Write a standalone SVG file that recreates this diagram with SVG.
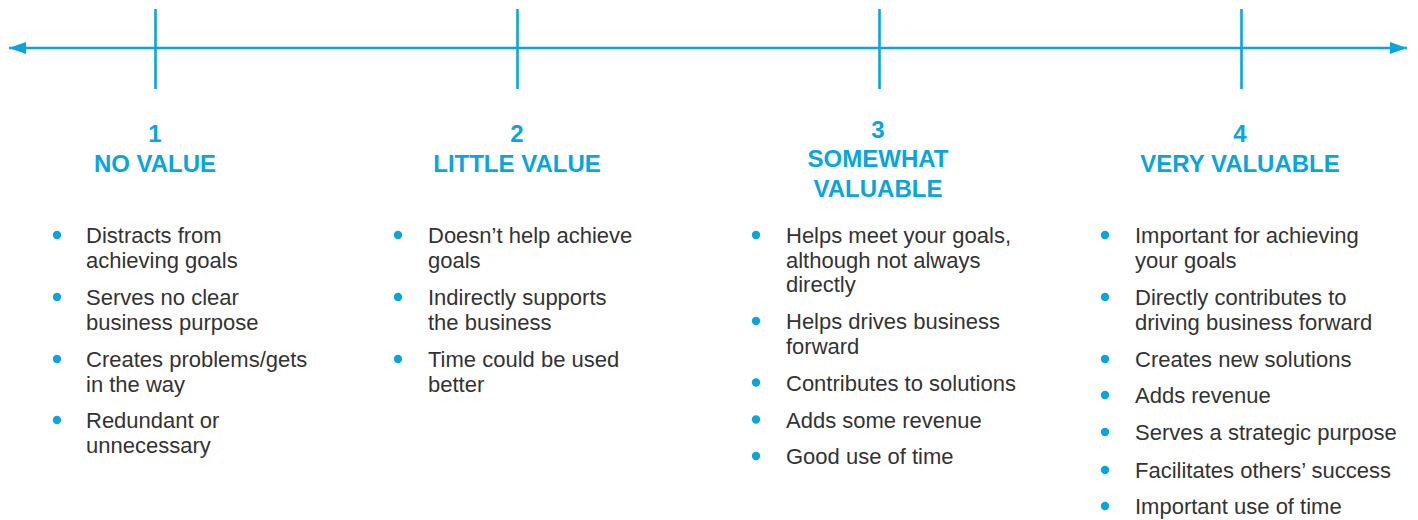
<svg xmlns="http://www.w3.org/2000/svg" width="1418" height="520" viewBox="0 0 1418 520">
  <style>
    .axis { stroke: #0AA5DC; stroke-width: 2.6; fill: none; }
    .tick { stroke: #0AA5DC; stroke-width: 2.6; }
    .head { font-family: "Liberation Sans", Arial, sans-serif; font-weight: bold; font-size: 24px; fill: #0AA5DC; text-anchor: middle; }
    .item { font-family: "Liberation Sans", Arial, sans-serif; font-size: 22px; fill: #333333; }
    .dot { fill: #0AA5DC; }
  </style>
  <defs>
    <marker id="arrowEnd" markerUnits="userSpaceOnUse" markerWidth="18" markerHeight="14" refX="17" refY="7" orient="auto">
      <path d="M0,1 L17,7 L0,13 Z" fill="#0AA5DC"/>
    </marker>
    <marker id="arrowStart" markerUnits="userSpaceOnUse" markerWidth="18" markerHeight="14" refX="1" refY="7" orient="auto">
      <path d="M18,1 L1,7 L18,13 Z" fill="#0AA5DC"/>
    </marker>
  </defs>

  <!-- value axis with scale ticks -->
  <g id="connectors">
    <path class="axis" d="M9,48 H1407" marker-start="url(#arrowStart)" marker-end="url(#arrowEnd)"/>
    <line class="tick" x1="155.5" y1="9" x2="155.5" y2="89"/>
    <line class="tick" x1="517.5" y1="9" x2="517.5" y2="89"/>
    <line class="tick" x1="879.5" y1="9" x2="879.5" y2="89"/>
    <line class="tick" x1="1241.5" y1="9" x2="1241.5" y2="89"/>
  </g>

  <!-- level 1 -->
  <g id="level1">
    <text class="head" x="155" y="142">1</text>
    <text class="head" x="155" y="172">NO VALUE</text>
    <circle class="dot" cx="57" cy="235" r="4.2"/>
    <text class="item" x="86" y="243">Distracts from</text>
    <text class="item" x="86" y="267.5">achieving goals</text>
    <circle class="dot" cx="57" cy="297" r="4.2"/>
    <text class="item" x="86" y="305">Serves no clear</text>
    <text class="item" x="86" y="329.5">business purpose</text>
    <circle class="dot" cx="57" cy="359" r="4.2"/>
    <text class="item" x="86" y="367">Creates problems/gets</text>
    <text class="item" x="86" y="391.5">in the way</text>
    <circle class="dot" cx="57" cy="420" r="4.2"/>
    <text class="item" x="86" y="428">Redundant or</text>
    <text class="item" x="86" y="452.5">unnecessary</text>
  </g>

  <!-- level 2 -->
  <g id="level2">
    <text class="head" x="517" y="142">2</text>
    <text class="head" x="517" y="172">LITTLE VALUE</text>
    <circle class="dot" cx="398" cy="235" r="4.2"/>
    <text class="item" x="428" y="243">Doesn’t help achieve</text>
    <text class="item" x="428" y="267.5">goals</text>
    <circle class="dot" cx="398" cy="297" r="4.2"/>
    <text class="item" x="428" y="305">Indirectly supports</text>
    <text class="item" x="428" y="329.5">the business</text>
    <circle class="dot" cx="398" cy="359" r="4.2"/>
    <text class="item" x="428" y="367">Time could be used</text>
    <text class="item" x="428" y="391.5">better</text>
  </g>

  <!-- level 3 -->
  <g id="level3">
    <text class="head" x="878" y="138">3</text>
    <text class="head" x="878" y="167">SOMEWHAT</text>
    <text class="head" x="878" y="197">VALUABLE</text>
    <circle class="dot" cx="756" cy="235" r="4.2"/>
    <text class="item" x="786" y="243">Helps meet your goals,</text>
    <text class="item" x="786" y="267.5">although not always</text>
    <text class="item" x="786" y="292">directly</text>
    <circle class="dot" cx="756" cy="321" r="4.2"/>
    <text class="item" x="786" y="329">Helps drives business</text>
    <text class="item" x="786" y="353.5">forward</text>
    <circle class="dot" cx="756" cy="382.5" r="4.2"/>
    <text class="item" x="786" y="390.5">Contributes to solutions</text>
    <circle class="dot" cx="756" cy="419.5" r="4.2"/>
    <text class="item" x="786" y="427.5">Adds some revenue</text>
    <circle class="dot" cx="756" cy="456" r="4.2"/>
    <text class="item" x="786" y="464">Good use of time</text>
  </g>

  <!-- level 4 -->
  <g id="level4">
    <text class="head" x="1240" y="142">4</text>
    <text class="head" x="1240" y="172">VERY VALUABLE</text>
    <circle class="dot" cx="1105" cy="235" r="4.2"/>
    <text class="item" x="1135" y="243">Important for achieving</text>
    <text class="item" x="1135" y="267.5">your goals</text>
    <circle class="dot" cx="1105" cy="297" r="4.2"/>
    <text class="item" x="1135" y="305">Directly contributes to</text>
    <text class="item" x="1135" y="329.5">driving business forward</text>
    <circle class="dot" cx="1105" cy="359" r="4.2"/>
    <text class="item" x="1135" y="367">Creates new solutions</text>
    <circle class="dot" cx="1105" cy="395" r="4.2"/>
    <text class="item" x="1135" y="403">Adds revenue</text>
    <circle class="dot" cx="1105" cy="432" r="4.2"/>
    <text class="item" x="1135" y="440">Serves a strategic purpose</text>
    <circle class="dot" cx="1105" cy="470" r="4.2"/>
    <text class="item" x="1135" y="478">Facilitates others’ success</text>
    <circle class="dot" cx="1105" cy="506" r="4.2"/>
    <text class="item" x="1135" y="514">Important use of time</text>
  </g>
</svg>
